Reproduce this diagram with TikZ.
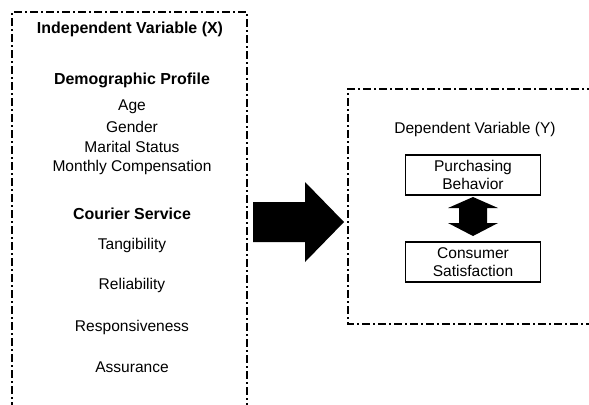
\documentclass[tikz,border=0pt]{standalone}
\usepackage{fontspec}
\setmainfont{Liberation Sans}
\usetikzlibrary{positioning}

\tikzset{
  dashdot box/.style={line width=1.4pt, dash pattern=on 8bp off 3bp on 2bp off 3bp},
  head/.style={font=\bfseries\fontsize{16}{19}\selectfont},
  item/.style={font=\fontsize{15.6}{20}\selectfont, align=center},
  varbox/.style={draw, line width=1.2pt, minimum width=135bp, minimum height=40bp,
                 align=center, font=\fontsize{15.6}{18}\selectfont, inner sep=1bp}
}

\begin{document}
\begin{tikzpicture}[x=1bp, y=-1bp]
  \useasboundingbox (0,0) rectangle (589,404);

  % independent side
  \draw[dashdot box] (12,410) -- (12,12) -- (247,12) -- (247,410);
  \node[head] (ivtitle) at (130,29) {Independent Variable (X)};
  \node[head] (demo) at (132,80) {Demographic Profile};
  \node[item] (age) at (132,107) {Age};
  \node[item] (gender) at (132,127) {Gender};
  \node[item] (marital) at (132,147) {Marital Status};
  \node[item] (salary) at (132,167) {Monthly Compensation};
  \node[head] (courier) at (132,214) {Courier Service};
  \node[item] (tangible) at (132,245) {Tangibility};
  \node[item] (reliable) at (132,285) {Reliability};
  \node[item] (responsive) at (132,327) {Responsiveness};
  \node[item] (assure) at (132,367) {Assurance};

  % big arrow
  \fill (253,202) -- (305,202) -- (305,182) -- (344,222) -- (305,262)
        -- (305,242) -- (253,242) -- cycle;

  % dependent side
  \draw[dashdot box] (595,89) -- (348,89) -- (348,324) -- (595,324);
  \node[item] (dvtitle) at (475,129) {Dependent Variable (Y)};
  \node[varbox] (buy) at (473,175) {Purchasing\\Behavior};
  \node[varbox] (satisfy) at (473,262) {Consumer\\Satisfaction};

  % two-way arrow
  \fill (473,197) -- (498,208) -- (487,208) -- (487,223) -- (498,223)
        -- (473,236) -- (448,223) -- (459,223) -- (459,208) -- (448,208) -- cycle;
\end{tikzpicture}
\end{document}
